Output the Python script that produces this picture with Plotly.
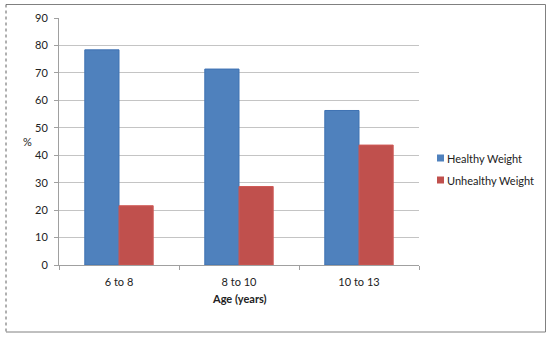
import plotly.graph_objects as go

categories = ["6 to 8", "8 to 10", "10 to 13"]
healthy = [78.4, 71.4, 56.3]
unhealthy = [21.6, 28.6, 43.7]
y_ticks = [0, 10, 20, 30, 40, 50, 60, 70, 80, 90]
series_names = ["Healthy Weight", "Unhealthy Weight"]
series_colors = ["#4F81BD", "#C0504D"]

FONT = "Lato, Open Sans, sans-serif"

fig = go.Figure()
fig.add_trace(go.Bar(name=series_names[0], x=categories, y=healthy,
                     marker=dict(color=series_colors[0], line=dict(color="#3F72B3", width=1))))
fig.add_trace(go.Bar(name=series_names[1], x=categories, y=unhealthy,
                     marker=dict(color=series_colors[1], line=dict(color="#D05A57", width=1))))

L, R, T, B = 59, 131, 18, 75
W, H = 550, 340
pw, ph = W - L - R, H - T - B

def px(x):
    return (x - L) / pw

def py(y):
    return (H - B - y) / ph

shapes = [
    dict(type="line", xref="paper", yref="paper", x0=px(6), x1=px(545.5), y0=py(4.5), y1=py(4.5),
         line=dict(color="#808080", width=1)),
    dict(type="line", xref="paper", yref="paper", x0=px(545.5), x1=px(545.5), y0=py(4.5), y1=py(332),
         line=dict(color="#808080", width=1)),
    dict(type="line", xref="paper", yref="paper", x0=px(6), x1=px(545.5), y0=py(332), y1=py(332),
         line=dict(color="#808080", width=1)),
    dict(type="line", xref="paper", yref="paper", x0=px(6), x1=px(6), y0=py(4.5), y1=py(332),
         line=dict(color="#606060", width=1, dash="dot")),
]
annotations = [
    dict(text="%", x=px(27), y=py(141), xref="paper", yref="paper", xanchor="center", yanchor="middle",
         showarrow=False, font=dict(size=11, family=FONT, color="#222")),
    dict(text="<b>Age (years)</b>", x=px(239), y=py(298), xref="paper", yref="paper",
         xanchor="center", yanchor="middle",
         showarrow=False, font=dict(size=11, family=FONT, color="#222")),
]
leg_y = [158, 180]
for name, col, yy in zip(series_names, series_colors, leg_y):
    shapes.append(dict(type="rect", xref="paper", yref="paper", x0=px(437), x1=px(444),
                       y0=py(yy + 3.5), y1=py(yy - 3.5), fillcolor=col, line=dict(width=0)))
    annotations.append(dict(text=name, x=px(445), y=py(yy), xref="paper", yref="paper",
                            xanchor="left", yanchor="middle", showarrow=False,
                            font=dict(size=11, family=FONT, color="#222")))

fig.update_layout(
    width=W, height=H,
    margin=dict(l=L, r=R, t=T, b=B, pad=0),
    paper_bgcolor="white", plot_bgcolor="white",
    barmode="group", bargap=0.43, bargroupgap=0,
    font=dict(family=FONT, size=11, color="#222"),
    showlegend=False,
    xaxis=dict(showgrid=False, showline=True, linecolor="#a0a0a0", linewidth=1,
               ticks="outside", ticklen=4, tickcolor="#a0a0a0", tickson="boundaries",
               ticklabelstandoff=7, tickfont=dict(size=11, color="#222"), fixedrange=True),
    yaxis=dict(range=[0, 90], tickvals=y_ticks, showgrid=True, gridcolor="#c4c4c4",
               gridwidth=1, showline=True, linecolor="#a0a0a0", linewidth=1,
               ticks="outside", ticklen=4, tickcolor="#a0a0a0", zeroline=False,
               ticklabelstandoff=4, tickfont=dict(size=11, color="#222"), fixedrange=True),
    annotations=annotations,
    shapes=shapes,
)

fig.write_html("out.html")
